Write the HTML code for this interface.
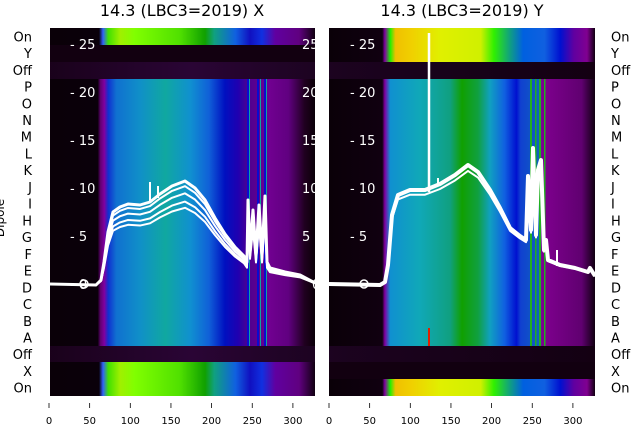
<!DOCTYPE html>
<html><head><meta charset="utf-8"><style>
html,body{margin:0;padding:0;background:#fff;width:640px;height:440px;overflow:hidden}
svg{display:block;font-family:"DejaVu Sans","Liberation Sans",sans-serif}
</style></head><body>
<svg id="s" width="640" height="440" viewBox="0 0 640 440" xmlns="http://www.w3.org/2000/svg">
<defs>
<linearGradient id="Lmid" gradientUnits="userSpaceOnUse" x1="50" y1="0" x2="315" y2="0">
<stop offset="0" stop-color="#0a0008"/><stop offset="0.18" stop-color="#0a000a"/><stop offset="0.19" stop-color="#600070"/>
<stop offset="0.205" stop-color="#8000a0"/><stop offset="0.22" stop-color="#1030d0"/><stop offset="0.25" stop-color="#1070d0"/>
<stop offset="0.34" stop-color="#1090c8"/><stop offset="0.435" stop-color="#10a8a0"/><stop offset="0.53" stop-color="#1090d0"/>
<stop offset="0.6" stop-color="#1060d8"/><stop offset="0.66" stop-color="#0010c0"/><stop offset="0.71" stop-color="#2000b0"/>
<stop offset="0.75" stop-color="#500090"/><stop offset="0.83" stop-color="#700090"/><stop offset="0.9" stop-color="#600080"/>
<stop offset="0.96" stop-color="#200020"/><stop offset="1" stop-color="#0a0008"/></linearGradient>
<linearGradient id="Lon" gradientUnits="userSpaceOnUse" x1="50" y1="0" x2="315" y2="0">
<stop offset="0" stop-color="#0a0008"/><stop offset="0.185" stop-color="#0a000a"/><stop offset="0.2" stop-color="#3060ff"/>
<stop offset="0.22" stop-color="#40e000"/><stop offset="0.265" stop-color="#a0f000"/><stop offset="0.32" stop-color="#80ff00"/>
<stop offset="0.49" stop-color="#50e000"/><stop offset="0.585" stop-color="#10a000"/><stop offset="0.62" stop-color="#10a080"/>
<stop offset="0.7" stop-color="#1060e0"/><stop offset="0.755" stop-color="#1010c0"/><stop offset="0.8" stop-color="#1030e0"/>
<stop offset="0.85" stop-color="#6000a0"/><stop offset="0.94" stop-color="#600080"/><stop offset="1" stop-color="#100010"/></linearGradient>
<linearGradient id="Rmid" gradientUnits="userSpaceOnUse" x1="329" y1="0" x2="595" y2="0">
<stop offset="0" stop-color="#0a0008"/><stop offset="0.2" stop-color="#100010"/><stop offset="0.21" stop-color="#8000a0"/>
<stop offset="0.23" stop-color="#1090d0"/><stop offset="0.34" stop-color="#10a8b8"/><stop offset="0.455" stop-color="#10a080"/>
<stop offset="0.5" stop-color="#10a000"/><stop offset="0.56" stop-color="#10a040"/><stop offset="0.605" stop-color="#10a0c0"/>
<stop offset="0.66" stop-color="#1060e0"/><stop offset="0.705" stop-color="#0010d0"/><stop offset="0.72" stop-color="#1040d0"/>
<stop offset="0.79" stop-color="#1060c0"/><stop offset="0.8" stop-color="#800090"/><stop offset="0.95" stop-color="#600070"/>
<stop offset="1" stop-color="#100010"/></linearGradient>
<linearGradient id="Ron" gradientUnits="userSpaceOnUse" x1="329" y1="0" x2="595" y2="0">
<stop offset="0" stop-color="#0a0008"/><stop offset="0.2" stop-color="#100010"/><stop offset="0.21" stop-color="#8000a0"/>
<stop offset="0.23" stop-color="#20f000"/><stop offset="0.25" stop-color="#f0c000"/><stop offset="0.31" stop-color="#f0d000"/>
<stop offset="0.42" stop-color="#e0f000"/><stop offset="0.57" stop-color="#d0f000"/><stop offset="0.62" stop-color="#30f000"/>
<stop offset="0.68" stop-color="#10a080"/><stop offset="0.73" stop-color="#0060e0"/><stop offset="0.81" stop-color="#1060e0"/>
<stop offset="0.87" stop-color="#0010d0"/><stop offset="0.92" stop-color="#6000a0"/><stop offset="0.97" stop-color="#800090"/>
<stop offset="1" stop-color="#100010"/></linearGradient>
<linearGradient id="dk" gradientUnits="userSpaceOnUse" x1="0" y1="0" x2="640" y2="0">
<stop offset="0" stop-color="#140012"/><stop offset="0.3" stop-color="#2a0535"/><stop offset="0.5" stop-color="#1c0320"/><stop offset="1" stop-color="#120010"/></linearGradient>
<clipPath id="cl"><rect x="50" y="28" width="265" height="368"/></clipPath>
<clipPath id="cr"><rect x="329" y="28" width="266" height="368"/></clipPath>
</defs>
<text x="182" y="16" font-size="16" text-anchor="middle" fill="#000">14.3 (LBC3=2019) X</text>
<text x="462" y="16" font-size="16" text-anchor="middle" fill="#000">14.3 (LBC3=2019) Y</text>
<text transform="translate(4,218) rotate(-90)" font-size="12" text-anchor="middle" fill="#000">Dipole</text>
<g id="L" clip-path="url(#cl)">
<rect x="50" y="28" width="265" height="17" fill="url(#Lon)"/>
<rect x="50" y="45" width="265" height="17" fill="#120010"/>
<rect x="50" y="62" width="265" height="17" fill="url(#dk)"/>
<rect x="50" y="79" width="265" height="267" fill="url(#Lmid)"/>
<rect x="50" y="346" width="265" height="16" fill="url(#dk)"/>
<rect x="50" y="362" width="265" height="34" fill="url(#Lon)"/>
<g fill="#0a0ad0"><rect x="247" y="79" width="2" height="267"/><rect x="257" y="79" width="2" height="267"/><rect x="264" y="79" width="2" height="267"/></g>
<g fill="#10a0a0"><rect x="249" y="79" width="1" height="267"/><rect x="260" y="79" width="1" height="267"/><rect x="266" y="79" width="1" height="267"/></g>
<g id="Lc" fill="none" stroke="#fff" stroke-linejoin="round"></g>
<g fill="#fff" font-size="13"><text x="70" y="49">- 25</text><text x="70" y="97">- 20</text><text x="70" y="145">- 15</text><text x="70" y="193">- 10</text><text x="70" y="241">-  5</text><text x="70" y="289">-  0</text>
<text x="302" y="49">25</text><text x="302" y="97">20</text><text x="302" y="145">15</text><text x="302" y="193">10</text><text x="302" y="241">5</text><text x="312" y="289">0</text></g>
<circle cx="84" cy="284" r="4" fill="none" stroke="#fff" stroke-width="1.5"/>
</g>
<g id="R" clip-path="url(#cr)">
<rect x="329" y="28" width="266" height="34" fill="url(#Ron)"/>
<rect x="329" y="62" width="266" height="17" fill="url(#dk)"/>
<rect x="329" y="79" width="266" height="267" fill="url(#Rmid)"/>
<rect x="329" y="346" width="266" height="16" fill="url(#dk)"/>
<rect x="329" y="362" width="266" height="17" fill="#120010"/>
<rect x="329" y="379" width="266" height="17" fill="url(#Ron)"/>
<g fill="#20b020"><rect x="530" y="79" width="2" height="267"/><rect x="535" y="79" width="1.5" height="267"/><rect x="539" y="79" width="2" height="267"/><rect x="544" y="79" width="1.5" height="267"/></g>
<rect x="428" y="328" width="2" height="18" fill="#e02000"/>
<g id="Rc" fill="none" stroke="#fff" stroke-linejoin="round"></g>
<g fill="#fff" font-size="13"><text x="350" y="49">- 25</text><text x="350" y="97">- 20</text><text x="350" y="145">- 15</text><text x="350" y="193">- 10</text><text x="350" y="241">-  5</text></g>
<circle cx="364" cy="284" r="4" fill="none" stroke="#fff" stroke-width="1.5"/>
</g>
<g font-size="13" fill="#000" text-anchor="end" id="ll"></g>
<g font-size="13" fill="#000" id="rl"></g>
<g font-size="10" fill="#000" text-anchor="middle" id="xt"></g>
</svg>
<script>
var NS="http://www.w3.org/2000/svg";
function el(p,t,a,txt){var e=document.createElementNS(NS,t);for(var k in a)e.setAttribute(k,a[k]);if(txt!==undefined)e.textContent=txt;document.getElementById(p).appendChild(e);return e;}
var labs=["On","Y","Off","P","O","N","M","L","K","J","I","H","G","F","E","D","C","B","A","Off","X","On"];
for(var i=0;i<22;i++){var y=28+16.73*(i+0.5)+5;el("ll","text",{x:32,y:y},labs[i]);el("rl","text",{x:611,y:y},labs[i]);}
for(var v=0;v<=300;v+=50){[49,329].forEach(function(o){var x=o+0.813*v;el("xt","line",{x1:x,y1:403,x2:x,y2:408,stroke:"#000","stroke-width":0.8});el("xt","text",{x:x,y:424},v);});}
function path(pts,dy,sc){return "M"+pts.map(function(p){var b=284;return p[0]+","+(b-(b-p[1])*sc+dy);}).join("L");}
var L=[[50,284],[96,285],[101,280],[104,262],[108,232],[113,212],[120,207],[128,204],[140,205],[150,202],[160,194],[172,186],[185,181],[195,188],[205,200],[215,218],[225,234],[235,247],[244,256],[247,262],[248,200],[250,250],[253,210],[256,255],[259,205],[262,255],[265,196],[267,262],[270,268],[285,272],[300,275],[315,283]];
[[0,1,3],[4,0.95,2],[10,0.88,2],[18,0.8,2],[24,0.74,2]].forEach(function(a){el("Lc","path",{d:path(L,0,a[1]),"stroke-width":a[2]});});
el("Lc","path",{d:"M150,203L150,182M158,198L158,186","stroke-width":2});
var R=[[329,284],[380,285],[385,282],[388,265],[392,215],[398,195],[410,190],[425,190],[440,184],[455,175],[468,165],[478,172],[490,190],[500,208],[510,228],[520,236],[526,240],[528,176],[531,230],[533,148],[536,235],[538,170],[541,160],[544,250],[546,240],[548,260],[560,265],[575,268],[588,272],[590,268],[595,276]];
el("Rc","path",{d:path(R,0,1),"stroke-width":4});
el("Rc","path",{d:path(R,0,0.95),"stroke-width":2});
el("Rc","path",{d:"M429,192L429,33","stroke-width":2.5});
el("Rc","path",{d:"M438,186L438,178M557,266L557,250","stroke-width":2});
</script>
</body></html>
